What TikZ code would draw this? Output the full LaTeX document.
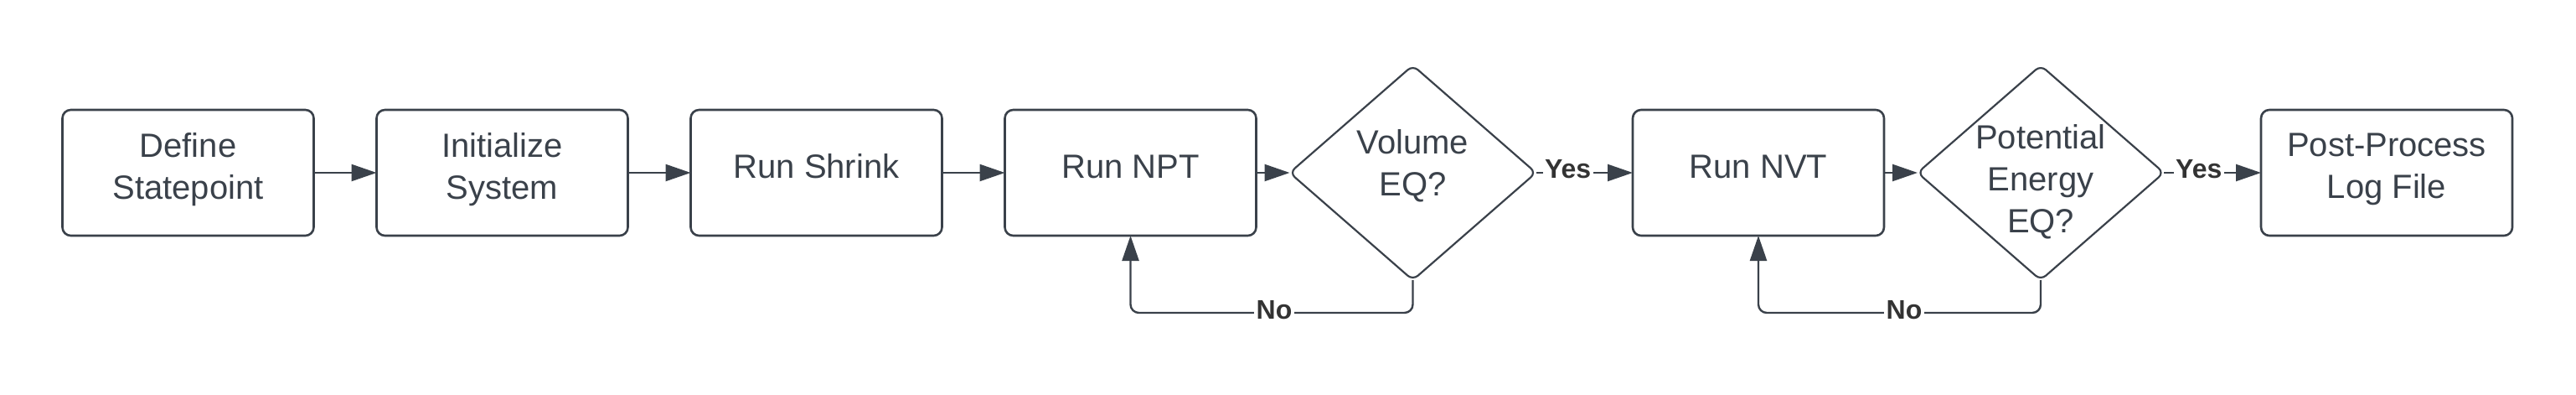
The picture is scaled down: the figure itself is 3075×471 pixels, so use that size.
\documentclass[tikz,border=0pt]{standalone}
\usepackage{fontspec}
\setmainfont{Liberation Sans}
\usetikzlibrary{shapes.geometric,arrows.meta,calc}
\definecolor{ink}{HTML}{3A414A}
\definecolor{lbltext}{HTML}{333333}
\begin{document}
\begin{tikzpicture}[x=0.25pt,y=-0.25pt,
  box/.style={draw=ink,line width=0.65pt,rounded corners=2.5pt,minimum width=75pt,minimum height=37.5pt,inner sep=0pt,outer sep=0pt},
  dia/.style={diamond,draw=ink,line width=0.55pt,rounded corners=2pt,minimum width=73.5pt,minimum height=64pt,inner sep=0pt,outer sep=0pt},
  txt/.style={text=ink,font=\fontsize{10}{12.5}\selectfont,align=center,inner sep=0pt},
  arr/.style={draw=ink,line width=0.6pt,-{Triangle[length=7.5pt,width=5pt]}},
  lbl/.style={text=lbltext,font=\fontsize{8}{9.6}\selectfont\bfseries,fill=white,inner sep=0.6pt}]
\useasboundingbox (0,0) rectangle (3075,471);
% boxes
\node[box] (b1) at (224.5,206) {};
\node[box] (b2) at (599.5,206) {};
\node[box] (b3) at (974.5,206) {};
\node[box] (npt) at (1349.5,206) {};
\node[dia] (d1) at (1686.5,206) {};
\node[box] (nvt) at (2099,206) {};
\node[dia] (d2) at (2436,206) {};
\node[box] (pp) at (2849,206) {};
% texts
\node[txt] (t1) at ($(b1.center)+(0,-4)$) {Define\\Statepoint};
\node[txt] (t2) at ($(b2.center)+(0,-4)$) {Initialize\\System};
\node[txt] (t3) at ($(b3.center)+(0,-8)$) {Run Shrink};
\node[txt] (t4) at ($(npt.center)+(0,-7)$) {Run NPT};
\node[txt] (t5) at ($(d1.center)+(0,-8)$) {Volume\\EQ?};
\node[txt] (t6) at ($(nvt.center)+(0,-7)$) {Run NVT};
\node[txt] (t7) at ($(d2.center)+(0,11)$) {Potential\\Energy\\EQ?};
\node[txt] (t8) at ($(pp.center)+(0,-4)$) {Post-Process\\Log File};
% arrows
\draw[arr] (b1.east) -- (b2.west);
\draw[arr] (b2.east) -- (b3.west);
\draw[arr] (b3.east) -- (npt.west);
\draw[arr] (npt.east) -- (d1.west);
\draw[arr] (d1.east) -- node[lbl,pos=0.33,yshift=1pt] (y1) {Yes} (nvt.west);
\draw[arr] (nvt.east) -- (d2.west);
\draw[arr] (d2.east) -- node[lbl,pos=0.36,yshift=1pt] (y2) {Yes} (pp.west);
% loops
\draw[arr,rounded corners=2.5pt] (d1.south) -- ++(0,39) coordinate (c1) -| (npt.south);
\node[lbl,yshift=1.2pt] (n1) at (1521,374) {No};
\draw[arr,rounded corners=2.5pt] (d2.south) -- ++(0,39) coordinate (c2) -| (nvt.south);
\node[lbl,yshift=1.2pt] (n2) at (2273,374) {No};
\end{tikzpicture}
\end{document}
